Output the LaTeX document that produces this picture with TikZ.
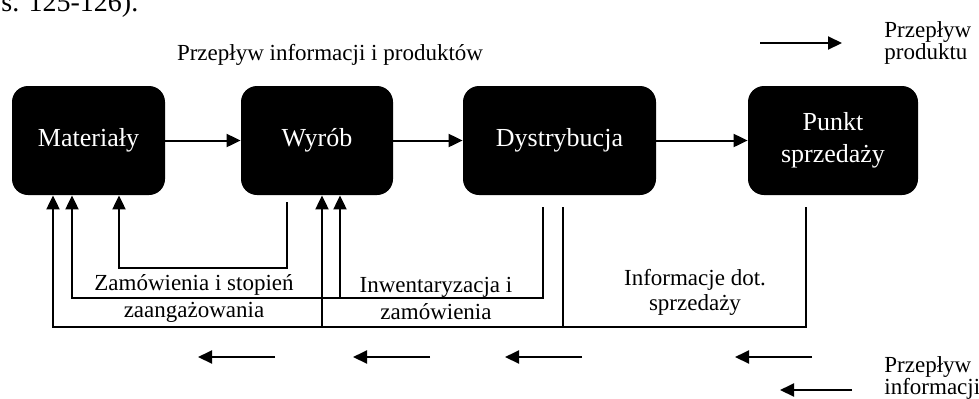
\documentclass[tikz,border=0pt]{standalone}
\usepackage{fontspec}
\setmainfont{Liberation Serif}
\usetikzlibrary{arrows.meta}

\tikzset{
  box/.style={fill=black, text=white, rounded corners=8pt, minimum height=54.5pt,
    inner sep=0pt, align=center, font=\fontsize{13}{16}\selectfont},
  lbl/.style={inner sep=0pt, align=center, font=\fontsize{11.5}{13.5}\selectfont},
  flow/.style={line width=1pt, -{Triangle[length=7pt,width=6.5pt]}},
  line/.style={line width=1pt}
}

\begin{document}
\begin{tikzpicture}[x=0.5pt,y=-0.5pt]
  \useasboundingbox (0,0) rectangle (979,398);
  % fragment of the caption above
  \node[anchor=base west, inner sep=0pt, font=\fontsize{14}{16}\selectfont] (cap) at (1,11) {s. 125-126).};
  \node[lbl] (title) at (330,55) {Przepływ informacji i produktów};

  % boxes
  \node[box, minimum width=76.5pt] (mat) at (88.5,140.5) {Materiały};
  \node[box, minimum width=76pt] (wyr) at (317,140.5) {Wyrób};
  \node[box, minimum width=96.5pt] (dys) at (559.5,140.5) {Dystrybucja};
  \node[box, minimum width=85pt] (pkt) at (833,140.5) {Punkt\\sprzedaży};

  \draw[flow] (mat) -- (wyr);
  \draw[flow] (wyr) -- (dys);
  \draw[flow] (dys) -- (pkt);

  % columns of the return lines
  \foreach \n/\x in {a/53,b/72,c/119,d/287,e/322,f/340,g/543,h/563,k/806}
    \coordinate (c\n) at (\x,0);

  % information flows back
  \draw[flow] (wyr.south -| cd) ++(0,7) |- (119,268) -- (mat.south -| cc);
  \draw[flow] (dys.south -| cg) ++(0,12) |- (72,298) -- (mat.south -| cb);
  \draw[flow] (pkt.south -| ck) ++(0,12) |- (53,327) -- (mat.south -| ca);
  \draw[flow] (340,298) -- (wyr.south -| cf);
  \draw[flow] (322,327) -- (wyr.south -| ce);
  \draw[line] (dys.south -| ch) ++(0,12) -- (563,327);

  \node[lbl] (lzam) at (194,298) {Zamówienia i stopień\\zaangażowania};
  \node[lbl] (linw) at (436,298) {Inwentaryzacja i\\zamówienia};
  \node[lbl, font=\fontsize{11.5}{12.5}\selectfont] (linf) at (695,292) {Informacje dot.\\sprzedaży};

  \foreach \xa/\xb [count=\i] in {275/198,430/353,582/505,812/735} {
    \coordinate (s\i) at (\xa,357);
    \coordinate (e\i) at (\xb,357);
    \draw[flow] (s\i) -- (e\i);
  }

  % legend
  \coordinate (pa) at (760,43);
  \coordinate (pb) at (842,43);
  \draw[flow] (pa) -- (pb);
  \node[lbl, anchor=west, align=left, font=\fontsize{11.5}{11}\selectfont] (lprod) at (884,43) {Przepływ\\produktu};
  \coordinate (ia) at (852,390);
  \coordinate (ib) at (780,390);
  \draw[flow] (ia) -- (ib);
  \node[lbl, anchor=west, align=left, font=\fontsize{11.5}{11}\selectfont] (linfo) at (884,378) {Przepływ\\informacji};
\end{tikzpicture}
\end{document}
